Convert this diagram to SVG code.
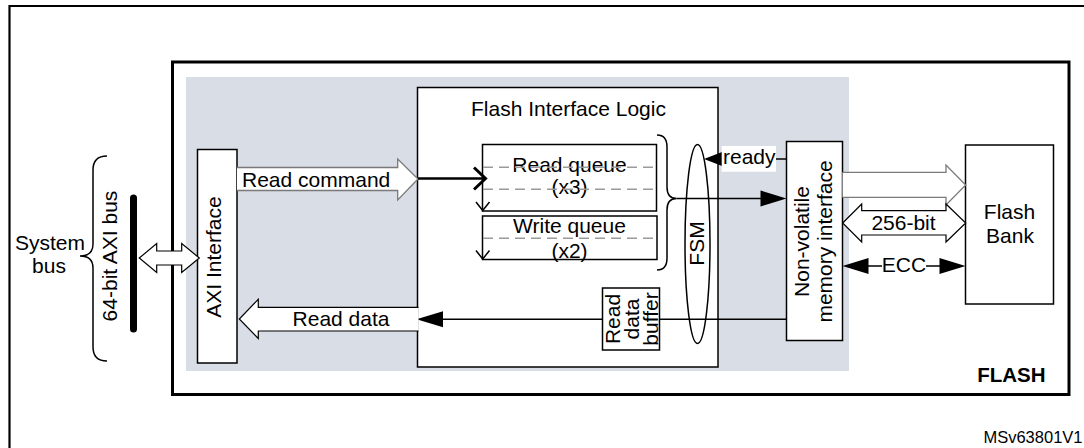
<svg xmlns="http://www.w3.org/2000/svg" width="1084" height="448" viewBox="0 0 1084 448">
  <style>
    text { font-family: "Liberation Sans", Arial, Helvetica, sans-serif; font-size: 21px; fill: #000; }
    .mid { text-anchor: middle; }
    .end { text-anchor: end; }
    .box { fill: #fff; stroke: #000; stroke-width: 1.5; }
    .wide { fill: #fff; stroke: #000; stroke-width: 1.2; }
    .wide-gray { fill: #fff; stroke: #7a7a7a; stroke-width: 1.3; }
    .line { fill: none; stroke: #000; stroke-width: 1.5; }
    .dash { fill: none; stroke: #9a9a9a; stroke-width: 1.5; stroke-dasharray: 10 6; }
    .head { fill: #000; stroke: none; }
    .brace { fill: none; stroke: #000; stroke-width: 1.5; }
  </style>

  <!-- page background and frame -->
  <rect x="0" y="0" width="1084" height="448" fill="#fff"/>
  <path d="M9.5,448 V6 H1084" fill="none" stroke="#000" stroke-width="2.2"/>

  <!-- FLASH peripheral outline -->
  <g id="flash">
    <rect x="172.5" y="62" width="896.5" height="332.5" fill="#fff" stroke="#000" stroke-width="3"/>
    <rect x="186" y="77" width="663" height="294" fill="#d9dde5"/>
    <text x="1045.5" y="382.3" class="end" style="font-weight:bold;font-size:20.5px">FLASH</text>
  </g>

  <!-- system bus -->
  <g id="system-bus">
    <text x="50" y="250" class="mid">System</text>
    <text x="49" y="273" class="mid">bus</text>
    <path class="brace" d="M107,156 Q93,156 93,170 V244 Q93,256 80,256 Q93,256 93,268 V347 Q93,361 107,361" stroke="#333" stroke-width="1.1"/>
    <text transform="translate(116.5,256) rotate(-90)" class="mid">64-bit AXI bus</text>
    <line x1="133.5" y1="198" x2="133.5" y2="329" stroke="#000" stroke-width="7" stroke-linecap="round"/>
  </g>

  <!-- AXI interface -->
  <g id="axi-interface">
    <rect class="box" x="197.5" y="149.5" width="39.5" height="213.5"/>
    <text transform="translate(221,257) rotate(-90)" class="mid">AXI Interface</text>
  </g>

  <!-- flash interface logic -->
  <g id="flash-interface-logic">
    <rect class="box" x="417.5" y="87.5" width="300.5" height="279.5"/>
    <text x="568.5" y="116" class="mid">Flash Interface Logic</text>
  </g>

  <!-- queues: the dashed slot lines run across the labels -->
  <g id="read-queue">
    <rect class="box" x="482.5" y="144.5" width="174" height="66.5"/>
    <text x="569.5" y="171.7" class="mid">Read queue</text>
    <text x="569.5" y="194" class="mid">(x3)</text>
    <line class="dash" x1="483" y1="167.3" x2="656" y2="167.3"/>
    <line class="dash" x1="483" y1="189.3" x2="656" y2="189.3"/>
    <polyline class="line" points="476,202 482.7,210.5 489.5,202"/>
  </g>

  <g id="write-queue">
    <rect class="box" x="482.5" y="216" width="174.5" height="43.5"/>
    <text x="569.5" y="233" class="mid">Write queue</text>
    <text x="569.5" y="257.5" class="mid">(x2)</text>
    <line class="dash" x1="483" y1="238.3" x2="656.5" y2="238.3"/>
    <polyline class="line" points="476,250.5 482.7,259 489.5,250.5"/>
  </g>

  <g id="read-data-buffer">
    <rect class="box" x="602.5" y="288" width="57" height="62"/>
  </g>

  <g id="fsm">
    <ellipse cx="697.5" cy="244" rx="12.5" ry="99.5" fill="none" stroke="#000" stroke-width="1.5"/>
    <text transform="translate(704,243.5) rotate(-90)" class="mid">FSM</text>
  </g>

  <g id="nvm-interface">
    <rect class="box" x="786.5" y="141.5" width="56" height="199"/>
    <text transform="translate(808.5,241.5) rotate(-90)" class="mid">Non-volatile</text>
    <text transform="translate(831.5,241.5) rotate(-90)" class="mid">memory interface</text>
  </g>

  <g id="flash-bank">
    <rect class="box" x="965.5" y="145" width="88" height="159"/>
    <text x="1009.5" y="219" class="mid">Flash</text>
    <text x="1010" y="243.3" class="mid">Bank</text>
  </g>

  <!-- connectors -->
  <g id="connectors">
    <!-- system bus to AXI interface -->
    <polygon class="wide" points="139.3,258 156.7,243.5 156.7,251 181.7,251 181.7,243.5 199.3,258 181.7,272.5 181.7,265 156.7,265 156.7,272.5"/>

    <!-- read command -->
    <path class="wide-gray" d="M237,167.5 H397.7 V159 L418,179 L397.7,200 V190.5 H237"/>
    <text x="242" y="186.7">Read command</text>
    <line x1="418" y1="178.5" x2="484" y2="178.5" stroke="#000" stroke-width="2.5"/>
    <polyline points="474,167.5 485.5,178.5 474,189.5" fill="none" stroke="#000" stroke-width="3"/>

    <!-- queues to FSM brace and NVM -->
    <path class="brace" d="M657,135 Q667,135 667,147 V187 Q667,198.5 676.5,198.5 Q667,198.5 667,210 V258 Q667,270 657,270"/>
    <line class="line" x1="676.5" y1="198.5" x2="762" y2="198.5"/>
    <polygon class="head" points="786.5,198.5 760.5,190.5 760.5,206.5"/>

    <!-- ready -->
    <line class="line" x1="770" y1="159" x2="786.5" y2="159"/>
    <polygon class="head" points="704,159 722,152 722,166"/>
    <rect x="721.7" y="146" width="54.3" height="25.7" fill="#fff"/>
    <text x="723" y="164">ready</text>

    <!-- read data path -->
    <line class="line" x1="786.5" y1="319.3" x2="659.5" y2="319.3"/>
    <line class="line" x1="602.5" y1="319.3" x2="440" y2="319.3"/>
    <polygon class="head" points="416.5,319.3 443,311.3 443,327.3"/>
    <path class="wide" d="M418.5,307.3 H258.3 V299.3 L239.3,319 L258.3,338.5 V331 H418.5"/>
    <text x="341" y="326" class="mid">Read data</text>

    <!-- NVM to flash bank -->
    <path class="wide-gray" d="M842.5,172.3 H946 V165 L965.7,185 L946,205 V197.3 H842.5"/>
    <polygon class="wide" points="842.7,223 861.7,204 861.7,210.7 946,210.7 946,204 965.7,223 946,242 946,235 861.7,235 861.7,242"/>
    <text x="903.5" y="230" class="mid">256-bit</text>

    <line class="line" x1="866" y1="266" x2="882" y2="266"/>
    <line class="line" x1="926" y1="266" x2="942" y2="266"/>
    <polygon class="head" points="842.5,266 868.5,258 868.5,274"/>
    <polygon class="head" points="965.5,266 939.5,258 939.5,274"/>
    <text x="904" y="272" class="mid">ECC</text>
  </g>

  <!-- read data buffer label, drawn over the data line -->
  <g id="read-data-buffer-label">
    <text transform="translate(620,319) rotate(-90)" class="mid">Read</text>
    <text transform="translate(639,319) rotate(-90)" class="mid">data</text>
    <text transform="translate(658,319) rotate(-90)" class="mid">buffer</text>
  </g>

  <text x="1082.5" y="443.3" class="end" style="font-size:16.5px">MSv63801V1</text>
</svg>
